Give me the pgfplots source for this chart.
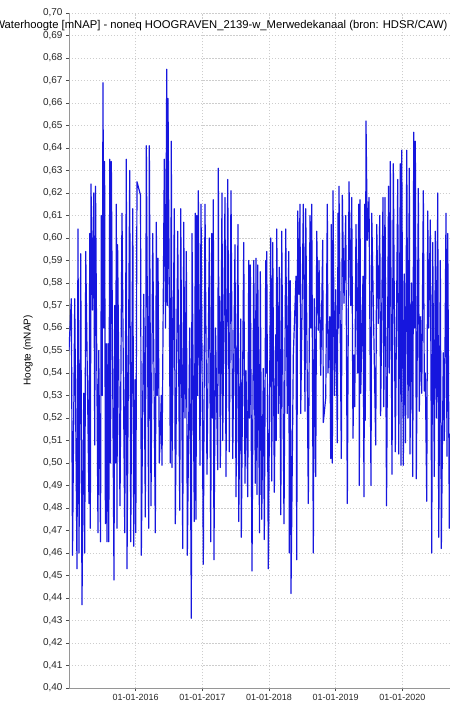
\documentclass[border=0pt]{standalone}
\usepackage{fontspec}
\setmainfont{Liberation Sans}
\usepackage{pgfplots}
\pgfplotsset{compat=1.18}

\definecolor{lijn}{RGB}{22,22,222}
\definecolor{raster}{RGB}{205,205,205}
\definecolor{as}{RGB}{150,150,150}

\begin{document}
\begin{tikzpicture}
\begin{axis}[
  at={(0,0)}, anchor=south west,
  width=381bp, height=675bp, scale only axis,
  xmin=2015, xmax=2020.715,
  ymin=0.40, ymax=0.70,
  ytick distance=0.01,
  xtick={2016,2017,2018,2019,2020},
  xticklabels={01-01-2016,01-01-2017,01-01-2018,01-01-2019,01-01-2020},
  axis x line*=bottom, axis y line*=left,
  axis line style={draw=as, line width=0.8pt, -},
  tick align=outside, major tick length=3bp,
  tick style={draw=black!70, line width=0.6pt},
  grid=major,
  major grid style={draw=raster, line width=0.7pt, dash pattern=on 1.2pt off 1.8pt},
  /pgf/number format/assume math mode=true,
  yticklabel style={/pgf/number format/.cd, fixed, fixed zerofill, precision=2, use comma,
    /tikz/.cd, font=\fontsize{10}{12}\selectfont, text=black!85},
  xticklabel style={font=\fontsize{9}{11}\selectfont, text=black!85, anchor=center, yshift=-6bp},
  ylabel={Hoogte (mNAP)},
  ylabel style={at={(axis description cs:-0.1076,0.5)}, anchor=center, font=\fontsize{10}{12}\selectfont},
  title={Waterhoogte [mNAP] - noneq HOOGRAVEN\_2139-w\_Merwedekanaal (bron: HDSR/CAW)},
  title style={at={(axis description cs:0.399,0.972)}, anchor=center, font=\fontsize{11.3}{13}\selectfont},
]
\addplot[lijn, line width=1.2pt, line join=round] coordinates {
(2015.000,0.550) (2015.035,0.573) (2015.053,0.459) (2015.086,0.573) (2015.120,0.453)
(2015.135,0.604) (2015.150,0.460) (2015.176,0.593) (2015.195,0.437) (2015.221,0.531)
(2015.236,0.460) (2015.251,0.594) (2015.300,0.482) (2015.311,0.602) (2015.320,0.471)
(2015.330,0.624) (2015.353,0.568) (2015.371,0.620) (2015.386,0.508) (2015.398,0.623)
(2015.435,0.469) (2015.446,0.550) (2015.473,0.465) (2015.485,0.610) (2015.498,0.530)
(2015.510,0.669) (2015.522,0.560) (2015.534,0.634) (2015.546,0.473) (2015.560,0.553)
(2015.570,0.465) (2015.585,0.553) (2015.597,0.465) (2015.611,0.635) (2015.623,0.500)
(2015.635,0.634) (2015.675,0.448) (2015.686,0.570) (2015.698,0.500) (2015.710,0.615)
(2015.720,0.471) (2015.729,0.597) (2015.765,0.481) (2015.795,0.611) (2015.836,0.469)
(2015.860,0.635) (2015.870,0.453) (2015.911,0.630) (2015.926,0.465)
(2015.957,0.613) (2015.971,0.463) (2015.990,0.537) (2016.002,0.469) (2016.020,0.625)
(2016.055,0.621) (2016.073,0.619) (2016.085,0.459) (2016.121,0.575) (2016.145,0.476)
(2016.160,0.641) (2016.196,0.471) (2016.205,0.641) (2016.230,0.481) (2016.256,0.602)
(2016.295,0.469) (2016.310,0.607) (2016.323,0.530) (2016.335,0.591) (2016.355,0.500)
(2016.385,0.530) (2016.395,0.499) (2016.430,0.635) (2016.448,0.560) (2016.466,0.675)
(2016.475,0.570) (2016.485,0.662) (2016.505,0.570) (2016.520,0.500) (2016.535,0.643)
(2016.545,0.498) (2016.580,0.613) (2016.595,0.473) (2016.631,0.603) (2016.661,0.479)
(2016.676,0.613) (2016.706,0.462) (2016.721,0.607) (2016.740,0.520) (2016.760,0.594)
(2016.775,0.459) (2016.811,0.560) (2016.835,0.431) (2016.845,0.602) (2016.880,0.474)
(2016.895,0.611)
(2016.905,0.475) (2016.916,0.610) (2016.928,0.530) (2016.940,0.621) (2016.965,0.499)
(2016.980,0.615) (2017.015,0.455) (2017.040,0.615) (2017.070,0.495) (2017.105,0.600)
(2017.126,0.465) (2017.141,0.602) (2017.153,0.520) (2017.165,0.617) (2017.174,0.457)
(2017.198,0.560) (2017.231,0.497) (2017.240,0.631) (2017.249,0.540) (2017.258,0.574)
(2017.270,0.498) (2017.295,0.620) (2017.306,0.510) (2017.340,0.618) (2017.355,0.494)
(2017.381,0.626) (2017.405,0.505) (2017.430,0.621) (2017.456,0.502) (2017.490,0.597)
(2017.505,0.485) (2017.535,0.606) (2017.546,0.474) (2017.576,0.564) (2017.585,0.467)
(2017.621,0.598) (2017.640,0.491) (2017.655,0.541) (2017.681,0.485) (2017.696,0.590)
(2017.708,0.520) (2017.720,0.588) (2017.745,0.452) (2017.771,0.590) (2017.795,0.491)
(2017.805,0.591) (2017.820,0.486) (2017.831,0.588) (2017.858,0.469) (2017.870,0.585)
(2017.891,0.475) (2017.915,0.542) (2017.930,0.466) (2017.951,0.590) (2017.958,0.540)
(2017.966,0.594) (2017.990,0.453) (2018.026,0.600) (2018.041,0.492) (2018.056,0.598)
(2018.080,0.487) (2018.101,0.557) (2018.108,0.510) (2018.116,0.604) (2018.140,0.522)
(2018.155,0.587) (2018.177,0.477) (2018.191,0.603) (2018.225,0.473) (2018.251,0.604)
(2018.275,0.522) (2018.296,0.594) (2018.305,0.460) (2018.320,0.581) (2018.330,0.442)
(2018.365,0.548) (2018.405,0.583) (2018.416,0.457) (2018.431,0.612) (2018.450,0.575)
(2018.465,0.615) (2018.476,0.522) (2018.515,0.615) (2018.540,0.523) (2018.551,0.613)
(2018.590,0.482) (2018.615,0.610) (2018.626,0.560) (2018.641,0.615) (2018.665,0.460)
(2018.680,0.573) (2018.701,0.494) (2018.716,0.603) (2018.740,0.559) (2018.750,0.590)
(2018.776,0.539) (2018.806,0.599) (2018.815,0.518)
(2018.851,0.529) (2018.875,0.615) (2018.885,0.540) (2018.911,0.565) (2018.926,0.502)
(2018.935,0.606) (2018.950,0.500) (2018.960,0.621) (2018.983,0.530) (2019.001,0.577)
(2019.025,0.509) (2019.035,0.611) (2019.043,0.560) (2019.050,0.623) (2019.085,0.502)
(2019.100,0.619) (2019.125,0.571) (2019.151,0.610) (2019.175,0.482) (2019.200,0.625)
(2019.226,0.570) (2019.241,0.618) (2019.260,0.511) (2019.275,0.548) (2019.286,0.525)
(2019.305,0.606) (2019.328,0.540) (2019.346,0.615) (2019.355,0.490) (2019.365,0.617)
(2019.376,0.531) (2019.410,0.583) (2019.425,0.485) (2019.436,0.615) (2019.445,0.519)
(2019.455,0.652) (2019.475,0.599) (2019.500,0.618) (2019.530,0.490) (2019.541,0.611)
(2019.601,0.508) (2019.616,0.606) (2019.640,0.562) (2019.661,0.610) (2019.674,0.521)
(2019.710,0.618) (2019.722,0.525) (2019.740,0.618) (2019.763,0.481) (2019.793,0.623)
(2019.805,0.540) (2019.820,0.634) (2019.845,0.495) (2019.865,0.633) (2019.895,0.505)
(2019.931,0.626) (2019.946,0.504) (2019.970,0.633) (2019.980,0.499) (2019.991,0.639)
(2020.015,0.499) (2020.030,0.584) (2020.048,0.509) (2020.066,0.639) (2020.085,0.520)
(2020.105,0.631) (2020.115,0.504) (2020.138,0.580) (2020.156,0.494) (2020.171,0.647)
(2020.183,0.560) (2020.195,0.643) (2020.210,0.493) (2020.240,0.622) (2020.255,0.523)
(2020.270,0.565) (2020.291,0.531) (2020.315,0.621) (2020.330,0.532) (2020.345,0.540)
(2020.366,0.483) (2020.381,0.612) (2020.396,0.560) (2020.420,0.608) (2020.441,0.460)
(2020.456,0.598) (2020.480,0.494) (2020.495,0.603) (2020.513,0.520) (2020.531,0.620)
(2020.546,0.467) (2020.570,0.590) (2020.585,0.462) (2020.615,0.549) (2020.630,0.510)
(2020.655,0.611) (2020.670,0.503) (2020.681,0.602) (2020.705,0.471) (2020.714,0.513)
};
\end{axis}
\pgfresetboundingbox
\path[use as bounding box] (-69bp,-14bp) rectangle (381bp,688bp);
\end{tikzpicture}
\end{document}
